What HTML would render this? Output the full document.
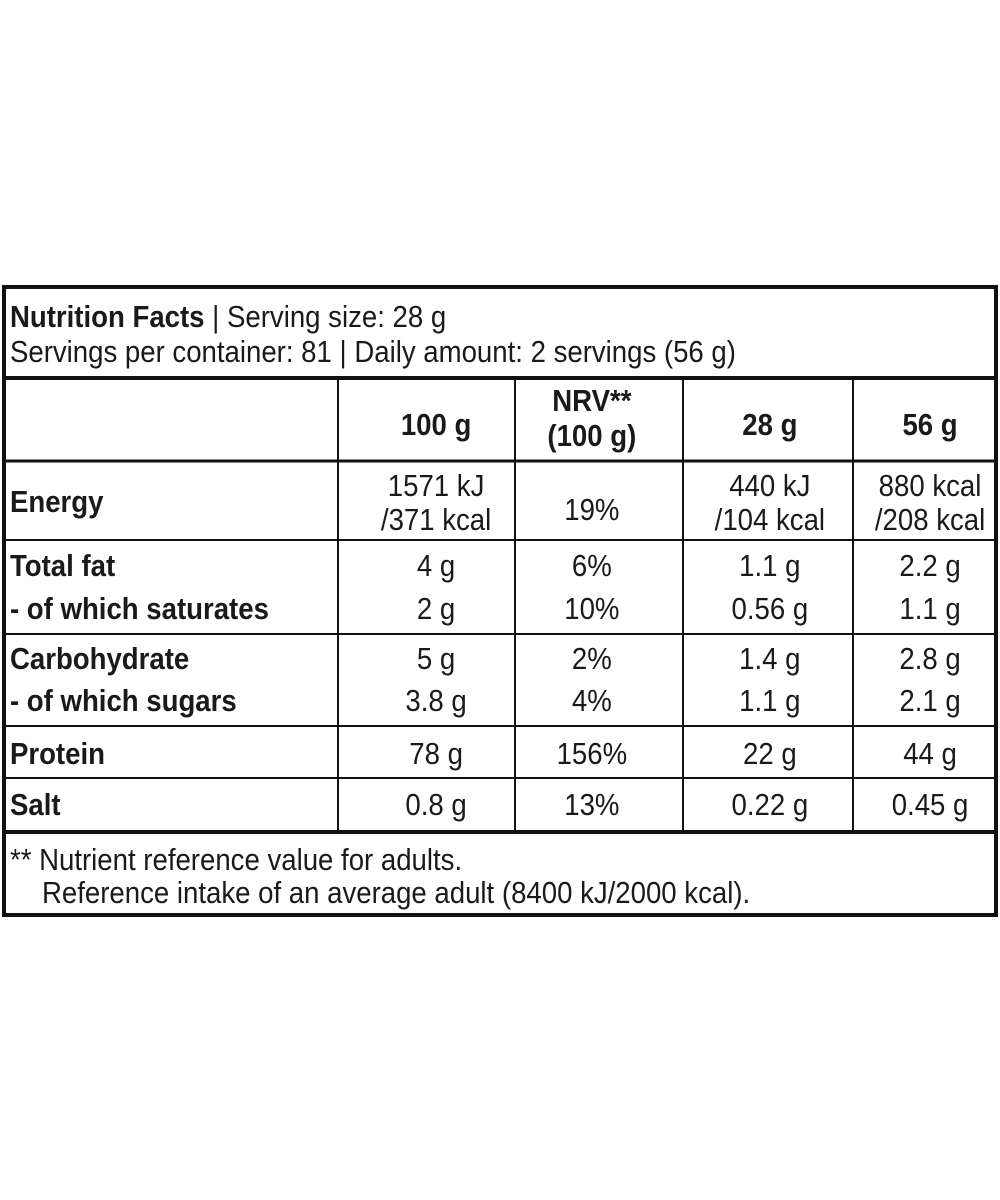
<!DOCTYPE html>
<html><head><meta charset="utf-8"><style>body{margin:0;background:#fff}svg{display:block}</style></head>
<body>
<svg width="1000" height="1200" xmlns="http://www.w3.org/2000/svg" font-family="'Liberation Sans', Arial, sans-serif" font-size="31" fill="#1a1a1a">
<rect width="1000" height="1200" fill="#fff"/>
<g stroke="#111" fill="none">
<rect x="4" y="287" width="992" height="628" stroke-width="4"/>
<line x1="4" y1="378" x2="996" y2="378" stroke-width="4"/>
<line x1="4" y1="461" x2="996" y2="461" stroke-width="3"/>
<line x1="4" y1="540" x2="996" y2="540" stroke-width="2"/>
<line x1="4" y1="634" x2="996" y2="634" stroke-width="2"/>
<line x1="4" y1="726" x2="996" y2="726" stroke-width="2"/>
<line x1="4" y1="778" x2="996" y2="778" stroke-width="2"/>
<line x1="4" y1="832" x2="996" y2="832" stroke-width="4"/>
<line x1="338" y1="378" x2="338" y2="832" stroke-width="2"/>
<line x1="515" y1="378" x2="515" y2="832" stroke-width="2"/>
<line x1="683" y1="378" x2="683" y2="832" stroke-width="2"/>
<line x1="853" y1="378" x2="853" y2="832" stroke-width="2"/>
</g>
<g transform="scale(0.89,1)">
<text x="11.2" y="327"><tspan font-weight="bold">Nutrition Facts</tspan> | Serving size: 28 g</text>
<text x="11.2" y="362">Servings per container: 81 | Daily amount: 2 servings (56 g)</text>
<g font-weight="bold" text-anchor="middle">
<text x="490" y="435">100 g</text>
<text x="665" y="411">NRV**</text>
<text x="665" y="446">(100 g)</text>
<text x="865" y="435">28 g</text>
<text x="1045" y="435">56 g</text>
</g>
<g font-weight="bold">
<text x="11.2" y="512">Energy</text>
<text x="11.2" y="576">Total fat</text>
<text x="11.2" y="619">- of which saturates</text>
<text x="11.2" y="669">Carbohydrate</text>
<text x="11.2" y="711">- of which sugars</text>
<text x="11.2" y="764">Protein</text>
<text x="11.2" y="815">Salt</text>
</g>
<g text-anchor="middle">
<text x="490" y="496">1571 kJ</text><text x="490" y="530">/371 kcal</text>
<text x="665" y="520">19%</text>
<text x="865" y="496">440 kJ</text><text x="865" y="530">/104 kcal</text>
<text x="1045" y="496">880 kcal</text><text x="1045" y="530">/208 kcal</text>
<text x="490" y="576">4 g</text><text x="665" y="576">6%</text><text x="865" y="576">1.1 g</text><text x="1045" y="576">2.2 g</text>
<text x="490" y="619">2 g</text><text x="665" y="619">10%</text><text x="865" y="619">0.56 g</text><text x="1045" y="619">1.1 g</text>
<text x="490" y="669">5 g</text><text x="665" y="669">2%</text><text x="865" y="669">1.4 g</text><text x="1045" y="669">2.8 g</text>
<text x="490" y="711">3.8 g</text><text x="665" y="711">4%</text><text x="865" y="711">1.1 g</text><text x="1045" y="711">2.1 g</text>
<text x="490" y="764">78 g</text><text x="665" y="764">156%</text><text x="865" y="764">22 g</text><text x="1045" y="764">44 g</text>
<text x="490" y="815">0.8 g</text><text x="665" y="815">13%</text><text x="865" y="815">0.22 g</text><text x="1045" y="815">0.45 g</text>
</g>
<text x="11.2" y="870">** Nutrient reference value for adults.</text>
<text x="47.2" y="903">Reference intake of an average adult (8400 kJ/2000 kcal).</text>
</g>
</svg>
</body></html>
